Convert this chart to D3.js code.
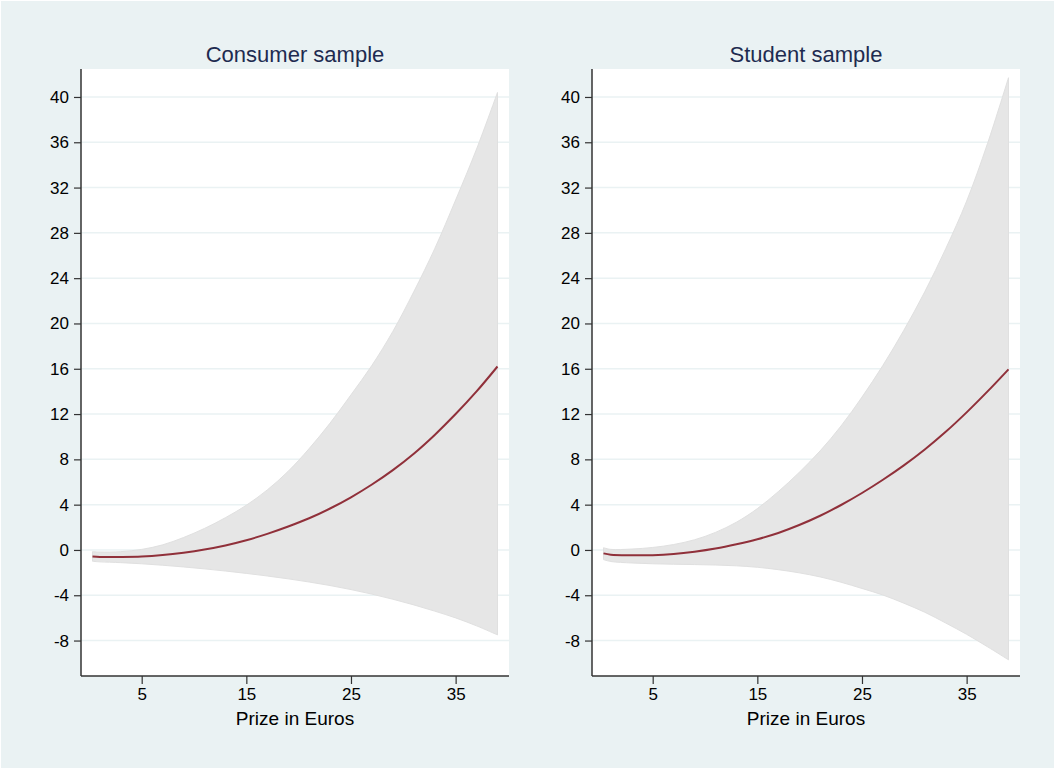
<!DOCTYPE html>
<html>
<head>
<meta charset="utf-8">
<script src="https://cdn.jsdelivr.net/npm/d3@7/dist/d3.min.js"></script>
<style>
  html, body { margin: 0; padding: 0; background: #eaf2f3; }
  svg { display: block; }
  text { font-family: "Liberation Sans", Arial, sans-serif; }
</style>
</head>
<body>
<svg id="chart" width="1055" height="769"></svg>
<script>
// ---- data ----
const prize = [0.3, 1, 3, 5, 7, 9, 11, 13, 15, 17, 19, 21, 23, 25, 27, 29, 31, 33, 35, 37, 39];

const consumerFit   = [-0.58, -0.62, -0.62, -0.58, -0.45, -0.24, 0.04, 0.4, 0.86, 1.42, 2.07, 2.8, 3.66, 4.65, 5.78, 7.05, 8.5, 10.16, 12.0, 14.0, 16.2];
const consumerUpper = [-0.15, -0.18, -0.15, 0.05, 0.45, 1.1, 1.9, 2.85, 3.95, 5.3, 6.95, 8.95, 11.2, 13.7, 16.3, 19.3, 22.8, 26.6, 30.9, 35.4, 40.4];
const consumerLower = [-1.0, -1.05, -1.12, -1.22, -1.35, -1.5, -1.67, -1.86, -2.07, -2.3, -2.55, -2.83, -3.14, -3.5, -3.9, -4.35, -4.85, -5.4, -6.0, -6.7, -7.5];

const studentFit   = [-0.3, -0.42, -0.47, -0.46, -0.36, -0.16, 0.12, 0.5, 0.95, 1.5, 2.2, 3.02, 3.97, 5.03, 6.2, 7.47, 8.87, 10.43, 12.15, 14.0, 15.95];
const studentUpper = [0.2, 0.05, 0.08, 0.22, 0.48, 0.9, 1.55, 2.45, 3.65, 5.15, 6.85, 8.75, 10.95, 13.5, 16.3, 19.4, 22.8, 26.6, 30.8, 35.9, 41.7];
const studentLower = [-0.85, -1.02, -1.15, -1.22, -1.26, -1.29, -1.33, -1.4, -1.53, -1.74, -2.02, -2.38, -2.85, -3.4, -3.98, -4.7, -5.5, -6.45, -7.45, -8.55, -9.7];

const panelTitles = ["Consumer sample", "Student sample"];
const xTicks = [5, 15, 25, 35];
const yTicks = [-8, -4, 0, 4, 8, 12, 16, 20, 24, 28, 32, 36, 40];
const xTitle = "Prize in Euros";

// ---- layout ----
const svg = d3.select("#chart");
svg.append("rect").attr("x", 0).attr("y", 0).attr("width", 1055).attr("height", 769)
  .attr("fill", "#eaf2f3").attr("stroke", "#ffffff").attr("stroke-width", 2);

const panels = [
  { left: 81, right: 509, title: panelTitles[0], fit: consumerFit, up: consumerUpper, lo: consumerLower },
  { left: 592, right: 1020, title: panelTitles[1], fit: studentFit, up: studentUpper, lo: studentLower }
];
const plotTop = 69, plotBottom = 676;
const fmt = d => String(d);

panels.forEach(p => {
  const x = d3.scaleLinear().domain([-0.8, 40.1]).range([p.left, p.right]);
  const y = d3.scaleLinear().domain([-11.13, 42.47]).range([plotBottom, plotTop]);
  const g = svg.append("g");

  // plot background
  g.append("rect").attr("x", p.left).attr("y", plotTop)
    .attr("width", p.right - p.left).attr("height", plotBottom - plotTop).attr("fill", "#ffffff");

  // gridlines
  g.selectAll(".grid").data(yTicks).enter().append("line")
    .attr("x1", p.left).attr("x2", p.right)
    .attr("y1", d => y(d)).attr("y2", d => y(d))
    .attr("stroke", "#eaf2f3").attr("stroke-width", 1.5);

  const rows = prize.map((v, i) => ({ x: v, fit: p.fit[i], up: p.up[i], lo: p.lo[i] }));
  const curve = d3.curveCatmullRom.alpha(0.5);

  // confidence band
  const area = d3.area().x(d => x(d.x)).y0(d => y(d.lo)).y1(d => y(d.up)).curve(curve);
  g.append("path").datum(rows).attr("d", area)
    .attr("fill", "#e6e6e6").attr("stroke", "#e0e0e0").attr("stroke-width", 1);

  // fitted line
  const line = d3.line().x(d => x(d.x)).y(d => y(d.fit)).curve(curve);
  g.append("path").datum(rows).attr("d", line)
    .attr("fill", "none").attr("stroke", "#90303a").attr("stroke-width", 2);

  // y axis
  const yAxis = d3.axisLeft(y).tickValues(yTicks).tickSize(7).tickPadding(5).tickFormat(fmt);
  const ya = g.append("g").attr("transform", `translate(${p.left},0)`).call(yAxis);
  ya.select(".domain").attr("d", `M0,${plotTop}V${plotBottom}`).attr("stroke", "#333").attr("stroke-width", 1.5);
  ya.selectAll(".tick line").attr("stroke", "#333").attr("stroke-width", 1.2);
  ya.selectAll(".tick text").attr("font-size", 17).attr("fill", "#000")
    .attr("font-family", "Liberation Sans, Arial, sans-serif");

  // x axis
  const xAxis = d3.axisBottom(x).tickValues(xTicks).tickSize(8).tickPadding(4).tickFormat(fmt);
  const xa = g.append("g").attr("transform", `translate(0,${plotBottom})`).call(xAxis);
  xa.select(".domain").attr("d", `M${p.left},0H${p.right}`).attr("stroke", "#333").attr("stroke-width", 1.5);
  xa.selectAll(".tick line").attr("stroke", "#333").attr("stroke-width", 1.2);
  xa.selectAll(".tick text").attr("font-size", 17).attr("fill", "#000")
    .attr("font-family", "Liberation Sans, Arial, sans-serif");

  // x title
  g.append("text").attr("x", (p.left + p.right) / 2).attr("y", 725)
    .attr("text-anchor", "middle").attr("font-size", 19).attr("fill", "#000").text(xTitle);

  // panel title
  g.append("text").attr("x", (p.left + p.right) / 2).attr("y", 62)
    .attr("text-anchor", "middle").attr("font-size", 22).attr("fill", "#1e2b50").text(p.title);
});
</script>
</body>
</html>
